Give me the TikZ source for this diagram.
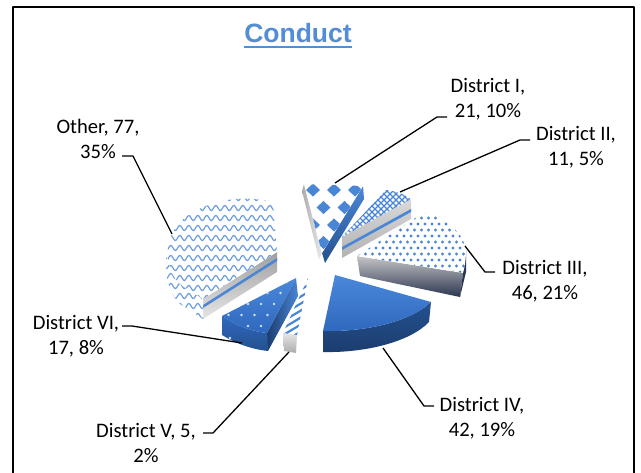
\documentclass[tikz,border=0pt]{standalone}
\usepackage{fontspec}
\setmainfont{Carlito}
\newfontfamily\headfont{Liberation Sans}
\usetikzlibrary{decorations.pathmorphing}

\definecolor{accent}{HTML}{538DD5}
\definecolor{patblue}{HTML}{4A86D6}
\definecolor{wavblue}{HTML}{6E9EE0}
\definecolor{solidtop}{HTML}{4A88DA}
\definecolor{solidlow}{HTML}{2F68BE}
\definecolor{deepblue}{HTML}{24518F}
\definecolor{darkblue}{HTML}{1B3D6E}
\definecolor{navy}{HTML}{2A3550}

\begin{document}
\begin{tikzpicture}[x=1pt,y=-1pt,line join=round,
  lbl/.style={font=\fontsize{20.6}{25}\selectfont, align=center, inner sep=0pt, anchor=base},
  leader/.style={line width=1.3pt, black},
  wave/.style={wavblue, line width=1.2pt, decorate,
    decoration={snake, segment length=9pt, amplitude=2.6pt}}]

\useasboundingbox (0,0) rectangle (641,473);
\fill[white] (0,0) rectangle (641,473);

% chart frame (open at the bottom)
\draw[line width=1.5pt] (13,473) -- (13,7) -- (634,7) -- (634,473);

% title
\node[font=\headfont\bfseries\fontsize{26.5}{30}\selectfont, text=accent,
      inner sep=0pt, anchor=base] (title) at (298,43) {Conduct};
\draw[accent, line width=1.6pt] ([yshift=-4pt]title.base west) -- ([yshift=-4pt]title.base east);

% ---------- Other (zigzag) ----------
\shade[top color=gray!75, bottom color=gray!20]
  (277,252) -- (203,299) -- (203,319) -- (277,272) -- cycle;
\fill[patblue] (277,258) -- (203,305) -- (203,308) -- (277,261) -- cycle;
\fill[white] (166,250) .. controls (167,265) and (172,276) .. (180,284) -- (203,299)
  -- (203,319) -- (180,304) .. controls (172,296) and (167,285) .. (166,270) -- cycle;
\begin{scope}
  \clip (166,250) .. controls (167,265) and (172,276) .. (180,284) -- (203,299)
    -- (203,319) -- (180,304) .. controls (172,296) and (167,285) .. (166,270) -- cycle;
  \foreach \yy in {246,256,...,326} \draw[wave] (150,\yy) -- (215,\yy);
\end{scope}
\fill[white] (277,252) -- (273,203) .. controls (250,194) and (205,198) .. (180,222)
  .. controls (165,238) and (162,266) .. (180,284) -- (203,299) -- cycle;
\begin{scope}
  \clip (277,252) -- (273,203) .. controls (250,194) and (205,198) .. (180,222)
    .. controls (165,238) and (162,266) .. (180,284) -- (203,299) -- cycle;
  \foreach \yy in {198,208,...,300} \draw[wave] (150,\yy) -- (290,\yy);
\end{scope}
\coordinate (a7) at (172,234);

% ---------- District I (diamonds) ----------
\shade[left color=gray!65, right color=gray!15]
  (304,184) -- (322,253) -- (319,259) -- (302,191) -- cycle;
\shade[top color=patblue, bottom color=deepblue]
  (363,186) -- (364,199) -- (325,263) -- (322,253) -- cycle;
\fill[white] (304,184) -- (363,186) -- (322,253) -- cycle;
\begin{scope}
  \clip (304,184) -- (363,186) -- (322,253) -- cycle;
  \foreach \r in {0,...,5}{
    \foreach \c in {0,...,3}{
      \pgfmathsetmacro\px{313+21*\c-10.5*mod(\r,2)}
      \pgfmathsetmacro\py{190+17.5*\r}
      \fill[patblue] (\px,\py-6.5) -- (\px+7,\py) -- (\px,\py+6.5) -- (\px-7,\py) -- cycle;
    }}
\end{scope}
\coordinate (a1) at (335,183);

% ---------- District II (crosshatch) ----------
\shade[top color=gray!30, bottom color=gray!60]
  (342,237) -- (411,199) -- (411,219) -- (342,258) -- cycle;
\fill[patblue] (342,247) -- (411,209) -- (411,212) -- (342,250) -- cycle;
\fill[white] (342,237) -- (386,190) .. controls (395,191) and (404,194) .. (411,199) -- cycle;
\begin{scope}
  \clip (342,237) -- (386,190) .. controls (395,191) and (404,194) .. (411,199) -- cycle;
  \foreach \k in {-80,-74,...,90}{
    \draw[patblue, line width=1.1pt] (330+\k,250) -- (400+\k,180);
    \draw[patblue, line width=1.1pt] (330+\k,180) -- (400+\k,250);
  }
\end{scope}
\coordinate (a2) at (400,192);

% ---------- District III (dots) ----------
\shade[top color=gray!45, bottom color=navy]
  (357,256) -- (463,273) -- (460,297) -- (360,276) -- cycle;
\fill[navy] (463,273) -- (466,250) -- (466,272) -- (460,297) -- cycle;
\fill[white] (357,256) -- (423,213) .. controls (445,217) and (463,232) .. (466,250)
  .. controls (466,258) and (465,266) .. (463,273) -- cycle;
\begin{scope}
  \clip (357,256) -- (423,213) .. controls (445,217) and (463,232) .. (466,250)
    .. controls (466,258) and (465,266) .. (463,273) -- cycle;
  \foreach \r in {0,...,11}{
    \foreach \c in {0,...,17}{
      \pgfmathsetmacro\px{355+7*\c+3.5*mod(\r,2)}
      \pgfmathsetmacro\py{212+6*\r}
      \fill[patblue] (\px,\py) circle (1.7);
    }}
\end{scope}
\coordinate (a3) at (465,246);

% ---------- District VI (blue, white dots) ----------
\shade[left color=darkblue, right color=patblue]
  (296,278) -- (267,333) -- (268,351) -- (298,296) -- cycle;
\shade[top color=solidlow, bottom color=deepblue]
  (222,316) .. controls (235,325) and (250,331) .. (267,333) -- (268,351)
  .. controls (250,349) and (235,343) .. (222,335) -- cycle;
\shade[top color=solidtop, bottom color=solidlow]
  (296,278) -- (222,316) .. controls (235,325) and (250,331) .. (267,333) -- cycle;
\begin{scope}
  \clip (296,278) -- (222,316) .. controls (235,325) and (250,331) .. (267,333) -- cycle;
  \foreach \r in {0,...,5}{
    \foreach \c in {0,...,6}{
      \pgfmathsetmacro\px{222+13*\c+6.5*mod(\r,2)}
      \pgfmathsetmacro\py{282+11*\r}
      \fill[white!75!patblue] (\px,\py) circle (1.3);
    }}
\end{scope}
\fill[white!75!patblue] (230,338) circle (1.3);
\coordinate (a6) at (242,343);

% ---------- District V (stripes) ----------
\shade[top color=gray!20, bottom color=gray!65]
  (283,333) -- (297,335) -- (296,353) -- (284,351) -- cycle;
\fill[white] (308,278) -- (297,335) -- (283,333) -- cycle;
\begin{scope}
  \clip (308,278) -- (297,335) -- (283,333) -- cycle;
  \foreach \k in {0,7,...,84}
    \draw[patblue, line width=2.2pt] (270,280+\k) -- (320,250+\k);
\end{scope}
\coordinate (a5) at (289,352);

% ---------- District IV (solid) ----------
\shade[top color=deepblue, bottom color=darkblue]
  (431,302) .. controls (410,322) and (365,332) .. (323,331) -- (323,352)
  .. controls (365,353) and (410,342) .. (429,322) -- cycle;
\shade[top color=solidtop, bottom color=solidlow]
  (335,275) -- (431,302) .. controls (410,322) and (365,332) .. (323,331) -- cycle;
\coordinate (a4) at (383,348);

% ---------- labels (anchored at the baseline of the last line) ----------
\node[lbl] (l1) at (488,118) {District I,\\21, 10\%};
\node[lbl] (l2) at (576,166) {District II,\\11, 5\%};
\node[lbl] (l3) at (545,300) {District III,\\46, 21\%};
\node[lbl] (l4) at (482,437) {District IV,\\42, 19\%};
\node[lbl] (l5) at (146,463) {District V, 5,\\2\%};
\node[lbl] (l6) at (76,355) {District VI,\\17, 8\%};
\node[lbl] (l7) at (98,159) {Other, 77,\\35\%};

% leader lines: elbow points and tick ends
\coordinate (k1) at (437,117); \coordinate (t1) at (447,117);
\coordinate (k2) at (520,140); \coordinate (t2) at (530,140);
\coordinate (k3) at (485,272); \coordinate (t3) at (495,272);
\coordinate (k4) at (424,406); \coordinate (t4) at (434,406);
\coordinate (k5) at (213,433); \coordinate (t5) at (203,433);
\coordinate (k6) at (132,326); \coordinate (t6) at (122,326);
\coordinate (k7) at (133,156); \coordinate (t7) at (122,156);

\draw[leader] (a1) -- (k1) -- (t1);
\draw[leader] (a2) -- (k2) -- (t2);
\draw[leader] (a3) -- (k3) -- (t3);
\draw[leader] (a4) -- (k4) -- (t4);
\draw[leader] (a5) -- (k5) -- (t5);
\draw[leader] (a6) -- (k6) -- (t6);
\draw[leader] (a7) -- (k7) -- (t7);
\end{tikzpicture}
\end{document}
